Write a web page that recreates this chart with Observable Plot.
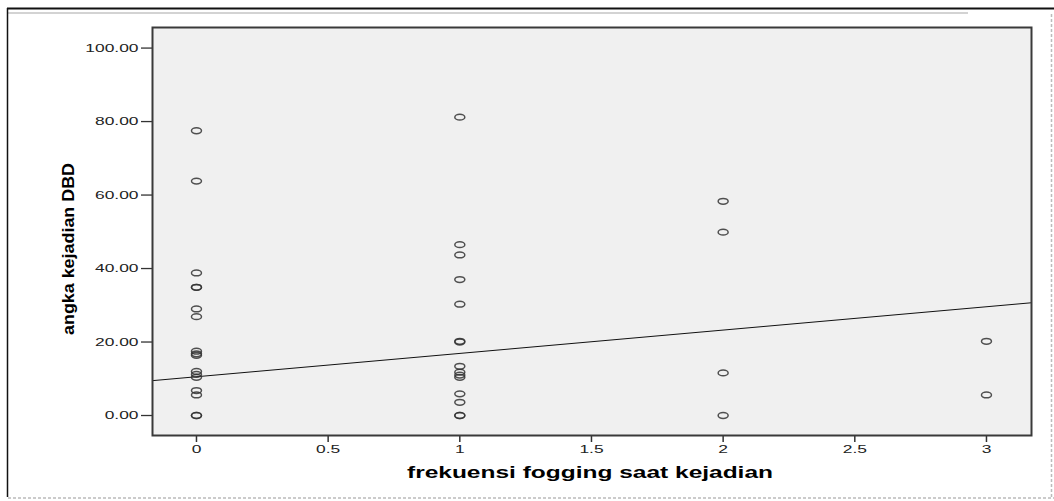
<!DOCTYPE html>
<html>
<head>
<meta charset="utf-8">
<script src="https://cdn.jsdelivr.net/npm/d3@7"></script>
<script src="https://cdn.jsdelivr.net/npm/@observablehq/plot@0.6"></script>
<style>
  html, body { margin: 0; padding: 0; background: #fff; }
  #chart { position: relative; width: 1054px; height: 501px; }
</style>
</head>
<body>
<div id="chart"></div>
<script>
// Frekuensi fogging (x) and angka kejadian DBD (y), one entry per village
const fogging = [
  0, 0, 0, 0, 0, 0, 0, 0, 0, 0, 0, 0, 0, 0, 0, 0, 0,
  1, 1, 1, 1, 1, 1, 1, 1, 1, 1, 1, 1, 1, 1, 1,
  2, 2, 2, 2,
  3, 3
];
const angka = [
  77.5, 63.8, 38.8, 34.9, 34.9, 29.0, 26.9, 17.5, 16.8, 16.4, 12.0, 11.2, 10.4, 6.8, 5.6, 0, 0,
  81.2, 46.5, 43.7, 37.0, 30.3, 20.2, 20.0, 13.4, 11.8, 11.0, 10.4, 5.9, 3.6, 0, 0,
  58.3, 49.9, 11.6, 0,
  20.2, 5.6
];

// Fit line (linear) coefficients
const fitIntercept = 10.55;
const fitSlope = 6.35;

// Axis settings
const xDomain = [-0.167, 3.171];
const yDomain = [-5.44, 105.6];
const xTicks = [0, 0.5, 1, 1.5, 2, 2.5, 3];
const yTicks = [0, 20, 40, 60, 80, 100];
const xTitle = "frekuensi fogging saat kejadian";
const yTitle = "angka kejadian DBD";

const points = fogging.map((f, i) => ({f, a: angka[i]}));
const fitLine = xDomain.map(f => ({f, a: fitIntercept + fitSlope * f}));

// Open elliptical marker
const ellipse = {
  draw(ctx) {
    const rx = 5, ry = 2.9, k = 0.5523;
    ctx.moveTo(rx, 0);
    ctx.bezierCurveTo(rx, ry * k, rx * k, ry, 0, ry);
    ctx.bezierCurveTo(-rx * k, ry, -rx, ry * k, -rx, 0);
    ctx.bezierCurveTo(-rx, -ry * k, -rx * k, -ry, 0, -ry);
    ctx.bezierCurveTo(rx * k, -ry, rx, -ry * k, rx, 0);
    ctx.closePath();
  }
};

const svg = Plot.plot({
  width: 1054,
  height: 501,
  marginLeft: 152,
  marginRight: 23,
  marginTop: 27,
  marginBottom: 66,
  style: {fontFamily: "'Liberation Sans', Arial, sans-serif", fontSize: "11px", color: "#222", background: "transparent"},
  x: {domain: xDomain, ticks: xTicks, tickFormat: d3.format("~g"), label: null},
  y: {domain: yDomain, ticks: yTicks, tickFormat: d3.format(".2f"), label: null},
  marks: [
    Plot.frame({fill: "#f0f0f0", stroke: "none"}),
    Plot.axisX({ticks: xTicks, tickFormat: d3.format("~g"), tickSize: 7, tickPadding: 3, stroke: "#333", strokeWidth: 1.5, label: null}),
    Plot.axisY({ticks: yTicks, tickFormat: d3.format(".2f"), tickSize: 11, tickPadding: 3, stroke: "#333", strokeWidth: 1.3, label: null}),
    Plot.line(fitLine, {x: "f", y: "a", stroke: "#111", strokeWidth: 1}),
    Plot.dot(points, {x: "f", y: "a", symbol: ellipse, r: 3, stroke: "#333", strokeWidth: 1.5, strokeOpacity: 0.85, fill: "none"}),
    Plot.frame({stroke: "#3a3a3a", strokeWidth: 2})
  ]
});

document.getElementById("chart").appendChild(svg);

// Wide tick lettering
svg.querySelectorAll('[aria-label="x-axis tick label"] text, [aria-label="y-axis tick label"] text').forEach(t => {
  const w = t.getComputedTextLength();
  t.setAttribute("textLength", (w * 1.58).toFixed(1));
  t.setAttribute("lengthAdjust", "spacingAndGlyphs");
});

const s = d3.select(svg);

// Axis titles
s.append("text")
  .attr("x", 590).attr("y", 478)
  .attr("text-anchor", "middle")
  .attr("font-family", "'Liberation Sans', Arial, sans-serif")
  .attr("font-weight", "bold").attr("font-size", 16)
  .attr("fill", "#000")
  .attr("textLength", 366).attr("lengthAdjust", "spacingAndGlyphs")
  .text(xTitle);

s.append("text")
  .attr("transform", "translate(73.5,249) rotate(-90)")
  .attr("text-anchor", "middle")
  .attr("font-family", "'Liberation Sans', Arial, sans-serif")
  .attr("font-weight", "bold").attr("font-size", 16)
  .attr("fill", "#000")
  .attr("textLength", 172).attr("lengthAdjust", "spacingAndGlyphs")
  .text(yTitle);

// Outer chart border
s.append("line").attr("x1", 7).attr("x2", 1054).attr("y1", 8.5).attr("y2", 8.5).attr("stroke", "#111").attr("stroke-width", 2);
s.append("line").attr("x1", 8).attr("x2", 968).attr("y1", 13).attr("y2", 13).attr("stroke", "#c4c4c4").attr("stroke-width", 1.5);
s.append("line").attr("x1", 7.5).attr("x2", 7.5).attr("y1", 8).attr("y2", 497).attr("stroke", "#111").attr("stroke-width", 1.5);
s.append("line").attr("x1", 8).attr("x2", 1054).attr("y1", 498).attr("y2", 498).attr("stroke", "#bbb").attr("stroke-width", 1.5).attr("stroke-dasharray", "3,2");
s.append("line").attr("x1", 1051.5).attr("x2", 1051.5).attr("y1", 14).attr("y2", 498).attr("stroke", "#bbb").attr("stroke-width", 1.5).attr("stroke-dasharray", "3,2");
</script>
</body>
</html>
